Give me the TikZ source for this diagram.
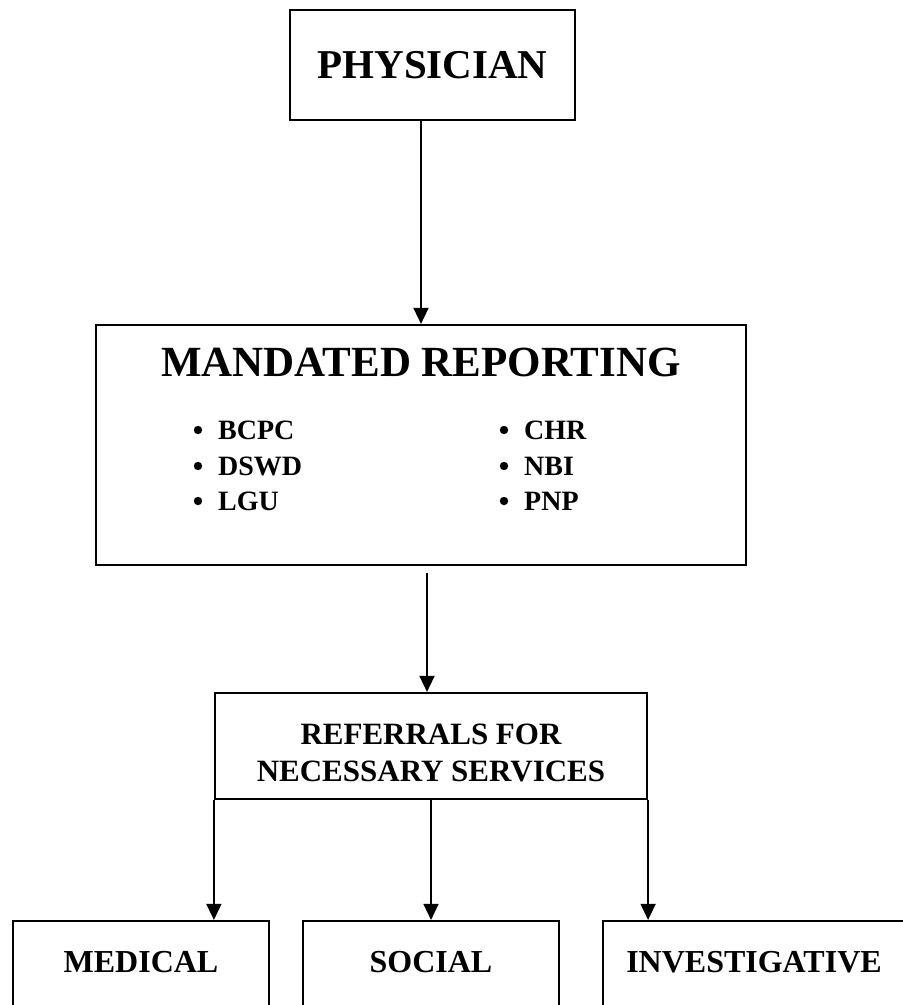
\documentclass[tikz,border=0pt]{standalone}
\usepackage{fontspec}
\setmainfont{Liberation Serif}
\usetikzlibrary{arrows.meta}
\tikzset{
  boxstyle/.style={draw, line width=2.2pt, inner sep=0pt, align=center},
  arr/.style={line width=1.6pt, -{Triangle[length=16pt,width=15pt]}},
  bigtxt/.style={font=\fontsize{41}{49}\selectfont\bfseries},
  titletxt/.style={font=\fontsize{43}{51}\selectfont\bfseries, inner sep=0pt},
  midtxt/.style={font=\fontsize{31}{37}\selectfont\bfseries, align=center, inner sep=0pt},
  bultxt/.style={font=\fontsize{28}{34}\selectfont\bfseries, anchor=west, inner sep=0pt},
  bulletdot/.style={fill=black},
  bottxt/.style={font=\fontsize{32}{38}\selectfont\bfseries}
}
\begin{document}
\begin{tikzpicture}[x=1pt,y=-1pt]
\clip (0,0) rectangle (903,1005);
\fill[white] (0,0) rectangle (903,1005);
% Physician
\node[boxstyle, bigtxt, minimum width=285pt, minimum height=110pt] (phys) at (432.5,65) {PHYSICIAN};
% Mandated reporting
\node[boxstyle, minimum width=650pt, minimum height=240pt] (mand) at (421,445) {};
\node[titletxt] (mtitle) at (421,362) {MANDATED REPORTING};
\node[bultxt] (b1) at (218,430) {BCPC};
\node[bultxt] (b2) at (218,466) {DSWD};
\node[bultxt] (b3) at (218,501) {LGU};
\node[bultxt] (b4) at (524,430) {CHR};
\node[bultxt] (b5) at (524,466) {NBI};
\node[bultxt] (b6) at (524,501) {PNP};
\foreach \n in {b1,b2,b3,b4,b5,b6}{
  \fill[bulletdot] ([xshift=-20pt]\n.west) circle (4.2pt);
}
% Referrals
\node[boxstyle, minimum width=432pt, minimum height=106pt] (ref) at (431,746) {};
\node[midtxt] (reft) at (431,753) {REFERRALS FOR\\NECESSARY SERVICES};
% Bottom boxes
\node[boxstyle, minimum width=256pt, minimum height=120pt] (med) at (141,981) {};
\node[boxstyle, minimum width=256pt, minimum height=120pt] (soc) at (431,981) {};
\node[boxstyle, minimum width=302pt, minimum height=120pt] (inv) at (754,981) {};
\node[bottxt] (medt) at (141,962) {MEDICAL};
\node[bottxt] (soct) at (431,962) {SOCIAL};
\node[bottxt] (invt) at (754,962) {INVESTIGATIVE};
% Connectors
\draw[arr] (phys.south -| mand.north) -- (mand.north);
\coordinate (a2) at (427,573);
\draw[arr] (a2) -- (a2 |- ref.north);
\draw[arr] (ref.south west) -- (ref.south west |- med.north);
\draw[arr] (ref.south) -- (ref.south |- soc.north);
\draw[arr] (ref.south east) -- (ref.south east |- inv.north);
\end{tikzpicture}
\end{document}
